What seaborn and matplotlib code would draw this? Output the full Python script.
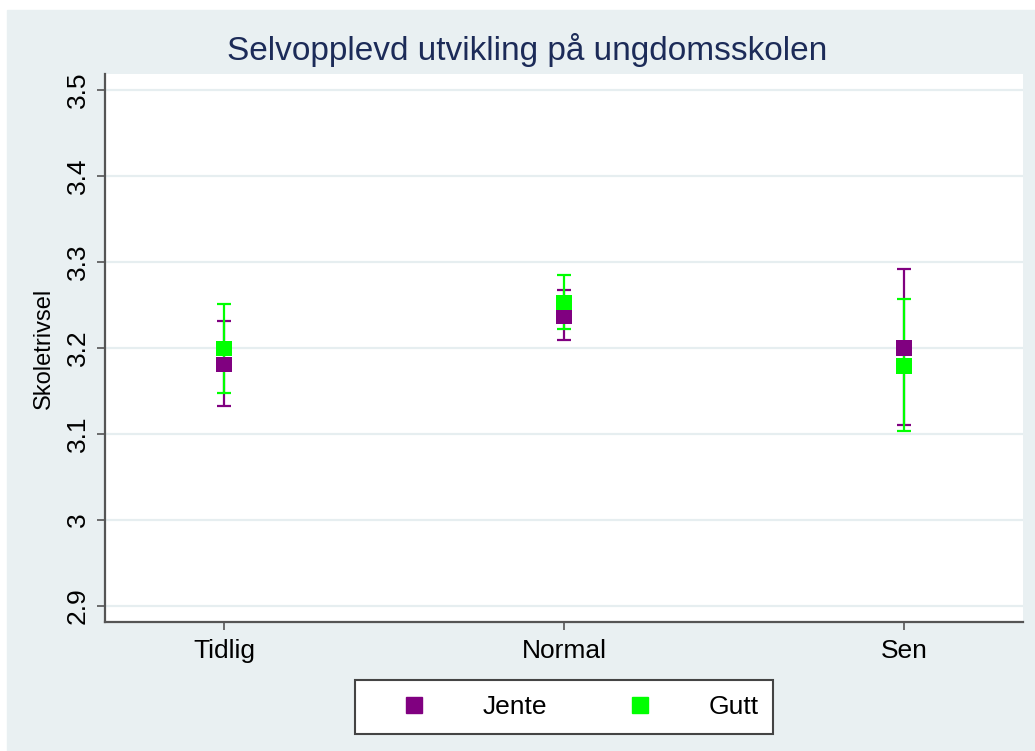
import numpy as np
import pandas as pd
import matplotlib
matplotlib.use("Agg")
import matplotlib.pyplot as plt
from matplotlib.lines import Line2D
from matplotlib.patches import Rectangle
import seaborn as sns

# verdier lest av figuren
grupper = ["Tidlig", "Normal", "Sen"]
jente_snitt = [3.181, 3.237, 3.200]
jente_lav = [3.132, 3.209, 3.110]
jente_hoy = [3.231, 3.267, 3.292]
gutt_snitt = [3.199, 3.253, 3.179]
gutt_lav = [3.148, 3.222, 3.104]
gutt_hoy = [3.251, 3.285, 3.257]
yticks = [2.9, 3.0, 3.1, 3.2, 3.3, 3.4, 3.5]
ytick_tekst = ["2.9", "3", "3.1", "3.2", "3.3", "3.4", "3.5"]

lilla = "#800080"
gronn = "#00ff00"
bakgrunn = "#e9f0f2"
rutenett = "#e6eef0"

sns.set_theme(style="white")
plt.rcParams["font.family"] = ["Liberation Sans", "DejaVu Sans"]
plt.rcParams["text.color"] = "black"
plt.rcParams["xtick.color"] = "black"
plt.rcParams["ytick.color"] = "black"
plt.rcParams["axes.labelcolor"] = "black"

pos = np.arange(1, len(grupper) + 1)
df = pd.DataFrame({
    "pos": np.concatenate([pos, pos]),
    "snitt": jente_snitt + gutt_snitt,
    "kjonn": ["Jente"] * 3 + ["Gutt"] * 3,
})

fig = plt.figure(figsize=(10.35, 7.51), dpi=100, facecolor="white")
fig.patches.append(Rectangle((7 / 1035, 0), 1 - 7 / 1035, 1 - 10 / 751,
                             transform=fig.transFigure, color=bakgrunn, zorder=-5))
ax = fig.add_axes([105 / 1035, 129 / 751, 918 / 1035, 548 / 751])
ax.set_facecolor("white")

for y in yticks:
    ax.axhline(y, color=rutenett, lw=1.6, zorder=0)

# konfidensintervall
ax.errorbar(pos, jente_snitt,
            yerr=[np.array(jente_snitt) - np.array(jente_lav), np.array(jente_hoy) - np.array(jente_snitt)],
            fmt="none", ecolor=lilla, elinewidth=1.6, capsize=5, capthick=1.6, zorder=2)
ax.errorbar(pos, gutt_snitt,
            yerr=[np.array(gutt_snitt) - np.array(gutt_lav), np.array(gutt_hoy) - np.array(gutt_snitt)],
            fmt="none", ecolor=gronn, elinewidth=1.6, capsize=5, capthick=1.6, zorder=2)

sns.scatterplot(data=df, x="pos", y="snitt", hue="kjonn", palette={"Jente": lilla, "Gutt": gronn},
                marker="s", s=120, linewidth=0, legend=False, ax=ax, zorder=3)

ax.set_xlim(0.65, 3.35)
ax.set_ylim(2.8814, 3.5186)
ax.set_xticks(pos)
ax.set_xticklabels(grupper, fontsize=19)
ax.set_yticks(yticks)
ax.set_yticklabels(ytick_tekst, fontsize=19, rotation=90, va="center")
ax.set_xlabel("")
ax.set_ylabel("Skoletrivsel", fontsize=17, labelpad=8)
ax.tick_params(axis="both", which="both", length=6, width=1.2, color="#555555",
               direction="out", bottom=True, left=True)
ax.tick_params(axis="y", pad=5)
ax.tick_params(axis="x", pad=6)

for side in ["top", "right"]:
    ax.spines[side].set_visible(False)
for side in ["left", "bottom"]:
    ax.spines[side].set_color("#555555")
    ax.spines[side].set_linewidth(1.6)

fig.text(527 / 1035, 1 - 50 / 751, "Selvopplevd utvikling på ungdomsskolen",
         ha="center", va="center", fontsize=24, color="#1c2b58")

handles = [Line2D([], [], marker="s", color=lilla, linestyle="none", markersize=11),
           Line2D([], [], marker="s", color=gronn, linestyle="none", markersize=11)]
leg = fig.legend(handles, ["Jente", "Gutt"], loc="center", ncol=2,
                 bbox_to_anchor=(564 / 1035, 1 - 707 / 751), fontsize=19,
                 frameon=True, fancybox=False, framealpha=1, handlelength=3.4,
                 handletextpad=0.9, columnspacing=1.8, borderpad=0.55)
leg.get_frame().set_edgecolor("#444444")
leg.get_frame().set_linewidth(1.5)
leg.get_frame().set_facecolor("white")

fig.savefig("out.png", dpi=100, facecolor=fig.get_facecolor())
